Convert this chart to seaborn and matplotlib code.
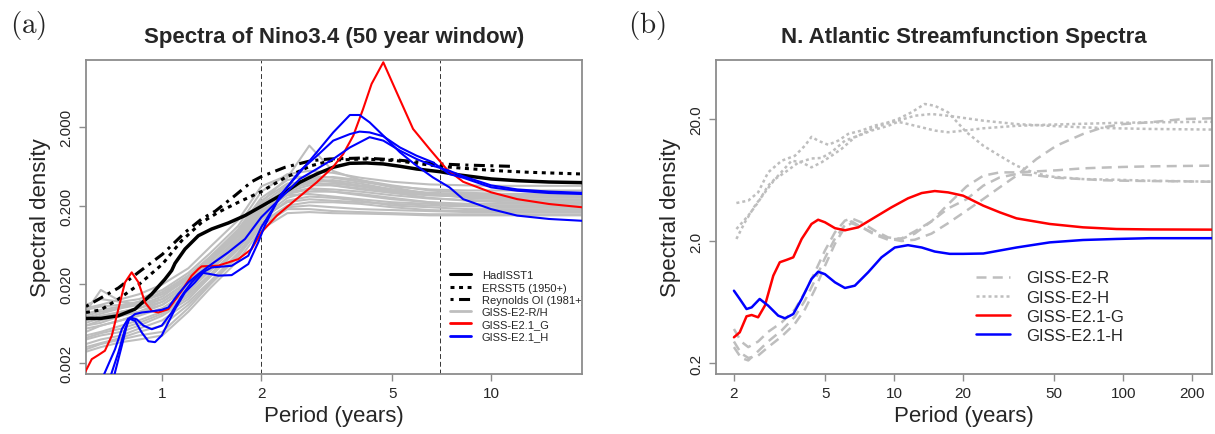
import matplotlib
matplotlib.use("Agg")
import matplotlib.pyplot as plt
from matplotlib.lines import Line2D
import seaborn as sns

# ---------------- Panel (a): Nino3.4 spectra ----------------
period_grid_a = [0.586, 0.65, 0.75, 0.85, 1.0, 1.2, 1.4, 1.7, 2.0, 2.4, 2.8, 3.3, 4.0, 5.0, 6.5, 8.5, 11, 14.5, 18.9]
gray_curves_a = [
    [0.011, 0.013, 0.012, 0.013, 0.017, 0.028, 0.05, 0.11, 0.30, 0.50, 0.55, 0.52, 0.45, 0.40, 0.37, 0.36, 0.355, 0.355, 0.355],
    [0.009, 0.017, 0.012, 0.011, 0.014, 0.024, 0.045, 0.10, 0.25, 0.42, 0.48, 0.45, 0.40, 0.35, 0.32, 0.31, 0.31, 0.31, 0.31],
    [0.008, 0.009, 0.010, 0.011, 0.013, 0.022, 0.04, 0.09, 0.22, 0.45, 1.15, 0.55, 0.42, 0.34, 0.28, 0.26, 0.25, 0.25, 0.25],
    [0.007, 0.008, 0.009, 0.010, 0.012, 0.02, 0.035, 0.08, 0.18, 0.35, 0.42, 0.40, 0.35, 0.30, 0.27, 0.26, 0.26, 0.26, 0.26],
    [0.006, 0.007, 0.008, 0.009, 0.011, 0.018, 0.032, 0.07, 0.16, 0.30, 0.36, 0.36, 0.33, 0.29, 0.25, 0.23, 0.22, 0.22, 0.22],
    [0.005, 0.006, 0.007, 0.008, 0.010, 0.016, 0.03, 0.065, 0.15, 0.28, 0.32, 0.30, 0.27, 0.24, 0.22, 0.21, 0.21, 0.21, 0.21],
    [0.0045, 0.005, 0.006, 0.007, 0.009, 0.015, 0.027, 0.06, 0.14, 0.25, 0.30, 0.30, 0.28, 0.25, 0.22, 0.20, 0.19, 0.19, 0.19],
    [0.004, 0.0045, 0.005, 0.006, 0.008, 0.013, 0.025, 0.055, 0.13, 0.23, 0.26, 0.25, 0.23, 0.20, 0.19, 0.18, 0.18, 0.18, 0.18],
    [0.0035, 0.004, 0.0045, 0.0055, 0.007, 0.012, 0.022, 0.05, 0.12, 0.20, 0.22, 0.22, 0.21, 0.19, 0.175, 0.17, 0.17, 0.17, 0.17],
    [0.003, 0.0035, 0.004, 0.0045, 0.005, 0.010, 0.02, 0.045, 0.11, 0.18, 0.18, 0.17, 0.165, 0.16, 0.155, 0.155, 0.155, 0.155, 0.155],
    [0.0028, 0.0032, 0.0037, 0.004, 0.0045, 0.009, 0.018, 0.04, 0.10, 0.16, 0.165, 0.16, 0.158, 0.155, 0.15, 0.15, 0.15, 0.15, 0.15],
    [0.010, 0.011, 0.013, 0.015, 0.02, 0.032, 0.06, 0.13, 0.35, 0.48, 0.45, 0.40, 0.36, 0.32, 0.29, 0.28, 0.28, 0.28, 0.28],
    [0.0075, 0.0085, 0.010, 0.012, 0.016, 0.026, 0.045, 0.09, 0.20, 0.32, 0.38, 0.38, 0.35, 0.31, 0.28, 0.27, 0.27, 0.27, 0.27],
    [0.0055, 0.006, 0.007, 0.0085, 0.011, 0.018, 0.03, 0.07, 0.17, 0.27, 0.28, 0.26, 0.24, 0.22, 0.21, 0.20, 0.20, 0.20, 0.20],
    [0.0065, 0.0075, 0.009, 0.010, 0.013, 0.021, 0.038, 0.085, 0.19, 0.33, 0.40, 0.42, 0.38, 0.32, 0.28, 0.25, 0.24, 0.235, 0.235],
    [0.0042, 0.0048, 0.0055, 0.0065, 0.0085, 0.014, 0.026, 0.058, 0.14, 0.22, 0.24, 0.23, 0.22, 0.21, 0.20, 0.195, 0.195, 0.195, 0.195],
    [0.0095, 0.0105, 0.011, 0.012, 0.015, 0.025, 0.042, 0.095, 0.23, 0.38, 0.40, 0.36, 0.32, 0.29, 0.27, 0.26, 0.26, 0.26, 0.26],
    [0.0032, 0.0036, 0.0042, 0.005, 0.006, 0.011, 0.021, 0.048, 0.12, 0.19, 0.20, 0.19, 0.18, 0.175, 0.17, 0.165, 0.165, 0.165, 0.165],
    [0.0085, 0.0095, 0.0105, 0.012, 0.015, 0.023, 0.04, 0.085, 0.21, 0.36, 0.44, 0.46, 0.42, 0.36, 0.31, 0.29, 0.28, 0.28, 0.28],
    [0.006, 0.0065, 0.008, 0.009, 0.012, 0.019, 0.034, 0.075, 0.17, 0.29, 0.33, 0.32, 0.30, 0.27, 0.245, 0.235, 0.23, 0.23, 0.23],
]

period_hadisst = [0.586, 0.65, 0.735, 0.826, 0.929, 1.019, 1.068, 1.093, 1.172, 1.287, 1.413, 1.587, 1.784, 2.0, 2.28, 2.62, 2.95, 3.31, 3.72, 4.18, 4.70, 5.28, 5.93, 6.98, 8.0, 10, 12, 15, 18.9]
hadisst = [0.0074, 0.0074, 0.0080, 0.0097, 0.0151, 0.0233, 0.030, 0.037, 0.056, 0.0828, 0.1007, 0.120, 0.149, 0.195, 0.266, 0.394, 0.502, 0.611, 0.686, 0.692, 0.673, 0.629, 0.581, 0.537, 0.488, 0.434, 0.413, 0.397, 0.39]

period_ersst = [0.586, 0.65, 0.735, 0.85, 1.0, 1.145, 1.317, 1.48, 1.70, 2.0, 2.36, 2.84, 3.3, 4.08, 5.16, 6.0, 7.0, 8.22, 10.4, 13.1, 18.9]
ersst = [0.0088, 0.0095, 0.013, 0.020, 0.036, 0.0716, 0.122, 0.164, 0.219, 0.30, 0.45, 0.64, 0.75, 0.778, 0.741, 0.68, 0.628, 0.593, 0.553, 0.527, 0.502]

period_reynolds = [0.586, 0.735, 0.846, 1.0, 1.172, 1.317, 1.45, 1.663, 1.869, 2.0, 2.36, 2.84, 3.23, 4.08, 5.16, 6.99, 8.22, 11.5]
reynolds = [0.0105, 0.0180, 0.0284, 0.048, 0.091, 0.135, 0.17, 0.267, 0.40, 0.465, 0.610, 0.741, 0.778, 0.801, 0.756, 0.673, 0.653, 0.628]

period_e21g = [0.582, 0.61, 0.639, 0.669, 0.702, 0.735, 0.77, 0.807, 0.846, 0.886, 0.929, 0.972, 1.043, 1.118, 1.228, 1.287, 1.317, 1.48, 1.703, 1.869, 2.0, 2.23, 2.56, 2.95, 3.31, 3.55, 3.81, 4.08, 4.33, 4.70, 5.16, 5.79, 6.5, 7.32, 8.22, 10, 12, 15, 18.9]
e21g = [0.00153, 0.00225, 0.00254, 0.00288, 0.00446, 0.0097, 0.0212, 0.0284, 0.0212, 0.0118, 0.0092, 0.0088, 0.0097, 0.0143, 0.0257, 0.0313, 0.0338, 0.0345, 0.0418, 0.0561, 0.091, 0.149, 0.242, 0.394, 0.62, 0.90, 1.54, 3.35, 6.97, 13.1, 5.46, 1.87, 1.04, 0.58, 0.40, 0.294, 0.241, 0.209, 0.19]

period_e21h_1 = [0.64, 0.669, 0.718, 0.753, 0.788, 0.826, 0.866, 0.907, 0.95, 0.996, 1.043, 1.093, 1.172, 1.257, 1.33, 1.40, 1.48, 1.625, 1.826, 1.958, 2.05, 2.28, 2.62, 2.95, 3.31, 3.72, 3.98, 4.27, 4.70, 5.28, 5.93, 6.65, 7.47, 8.22, 10, 12, 15, 18.9]
e21h_1 = [0.0010, 0.00153, 0.0030, 0.0054, 0.0074, 0.0069, 0.0049, 0.0038, 0.0037, 0.0045, 0.0066, 0.0097, 0.0158, 0.0212, 0.028, 0.027, 0.0258, 0.0262, 0.0362, 0.0683, 0.111, 0.267, 0.527, 0.946, 1.69, 2.81, 2.81, 2.27, 1.54, 0.946, 0.640, 0.455, 0.340, 0.241, 0.180, 0.149, 0.135, 0.128]
period_e21h_2 = [0.68, 0.702, 0.735, 0.77, 0.798, 0.836, 0.876, 0.929, 0.996, 1.068, 1.145, 1.228, 1.30, 1.413, 1.625, 1.826, 2.0, 2.33, 2.62, 2.95, 3.31, 3.72, 3.98, 4.27, 4.70, 5.28, 5.93, 6.65, 7.47, 8.22, 10, 12, 15, 18.9]
e21h_2 = [0.0010, 0.00153, 0.00274, 0.0054, 0.0076, 0.0072, 0.0060, 0.0054, 0.0060, 0.0088, 0.0143, 0.0212, 0.027, 0.0328, 0.0344, 0.0462, 0.106, 0.294, 0.55, 0.85, 1.33, 1.61, 1.73, 1.69, 1.51, 1.09, 0.857, 0.706, 0.50, 0.45, 0.34, 0.308, 0.288, 0.28]
period_e21h_3 = [0.70, 0.718, 0.753, 0.788, 0.826, 0.866, 0.929, 0.996, 1.043, 1.118, 1.2, 1.287, 1.413, 1.587, 1.784, 2.0, 2.33, 2.62, 2.95, 3.31, 3.72, 4.27, 4.70, 5.28, 5.93, 6.65, 7.47, 8.22, 10, 12, 15, 18.9]
e21h_3 = [0.0010, 0.00153, 0.00333, 0.0072, 0.0084, 0.0088, 0.0091, 0.0095, 0.0102, 0.0151, 0.0212, 0.027, 0.0362, 0.0509, 0.0751, 0.142, 0.267, 0.434, 0.581, 0.778, 1.09, 1.47, 1.33, 0.993, 0.778, 0.640, 0.55, 0.47, 0.36, 0.32, 0.30, 0.29]

ref_periods_a = [2, 7]
xticks_a = [1, 2, 5, 10]
yticks_a = [0.002, 0.02, 0.2, 2]
yticklabels_a = ["0.002", "0.020", "0.200", "2.000"]
legend_labels_a = ["HadISST1", "ERSST5 (1950+)", "Reynolds OI (1981+)", "GISS-E2-R/H", "GISS-E2.1_G", "GISS-E2.1_H"]

# ---------------- Panel (b): N. Atlantic streamfunction spectra ----------------
period_r = [2.0, 2.15, 2.31, 2.55, 2.82, 3.23, 3.69, 4.08, 4.51, 4.99, 5.52, 6.10, 6.52, 7.21, 8.24, 9.42, 10.77, 12.3, 14.56, 17.2, 20.7, 24.5, 28.9, 34.2, 41.8, 51.1, 66.8, 81.6, 99.7, 130, 182, 244]
e2r_1 = [0.30, 0.24, 0.22, 0.23, 0.27, 0.33, 0.42, 0.55, 0.80, 1.25, 1.9, 2.6, 2.8, 2.6, 2.3, 2.1, 2.0, 2.05, 2.3, 2.8, 3.55, 4.42, 5.51, 6.87, 9.4, 12.1, 15.1, 17.1, 18.2, 18.8, 20.0, 20.3]
e2r_2 = [0.38, 0.30, 0.27, 0.30, 0.36, 0.43, 0.55, 0.76, 1.11, 1.67, 2.36, 2.94, 3.07, 2.84, 2.43, 2.14, 2.08, 2.3, 2.9, 4.0, 5.6, 6.87, 7.31, 7.31, 7.45, 7.6, 7.89, 8.0, 8.1, 8.19, 8.25, 8.30]
e2r_3 = [0.27, 0.22, 0.21, 0.25, 0.30, 0.37, 0.48, 0.65, 0.95, 1.45, 2.1, 2.7, 2.9, 2.6, 2.25, 2.05, 2.1, 2.4, 2.9, 3.7, 4.4, 5.69, 6.65, 7.08, 6.9, 6.6, 6.44, 6.3, 6.25, 6.21, 6.17, 6.13]

period_h1 = [2.05, 2.31, 2.55, 2.82, 3.23, 3.69, 4.08, 4.36, 4.66, 5.16, 5.70, 6.30, 7.21, 8.24, 9.42, 10.4, 11.9, 13.6, 15.05, 17.2, 20.7, 24.5, 28.9, 34.2, 40.4, 47.8, 66.8, 93.3, 130, 244]
e2h_1 = [4.10, 4.29, 5.01, 7.31, 9.11, 10.0, 12.1, 14.3, 13.3, 12.3, 13.3, 15.1, 16.1, 17.7, 18.8, 20.0, 22.7, 26.6, 25.7, 22.7, 15.6, 12.1, 10.0, 8.3, 7.3, 6.77, 6.44, 6.36, 6.25, 6.13]
period_h2 = [2.05, 2.23, 2.47, 2.73, 3.02, 3.34, 3.82, 4.36, 4.82, 5.33, 6.10, 6.97, 7.97, 9.11, 10.4, 12.3, 14.56, 17.2, 24.5, 34.2, 47.8, 66.8, 93.3, 130, 244]
e2h_2 = [2.08, 2.84, 3.90, 5.01, 6.44, 7.31, 8.8, 9.5, 9.6, 10.7, 13.3, 14.6, 16.6, 18.2, 19.4, 21.3, 22.0, 21.3, 19.4, 18.2, 17.6, 17.1, 16.8, 16.6, 16.4]
period_h3 = [2.05, 2.31, 2.55, 2.82, 3.12, 3.57, 3.95, 4.36, 4.82, 5.33, 5.90, 6.74, 7.97, 9.42, 10.4, 11.5, 13.2, 15.05, 17.2, 20.3, 24.5, 34.2, 47.8, 66.8, 93.3, 130, 244]
e2h_3 = [2.51, 3.23, 4.15, 5.69, 6.87, 9.11, 8.83, 8.04, 8.83, 10.0, 11.4, 14.2, 16.1, 17.6, 19.0, 18.2, 17.1, 16.1, 15.6, 16.1, 16.8, 17.6, 18.0, 18.3, 18.6, 18.8, 19.0]

period_g_b = [2.0, 2.12, 2.27, 2.39, 2.55, 2.73, 2.97, 3.17, 3.39, 3.63, 3.95, 4.36, 4.66, 4.99, 5.52, 6.10, 6.97, 8.24, 9.74, 11.5, 13.2, 15.05, 17.2, 20, 24.5, 28.9, 34.2, 47.8, 66.8, 93.3, 130, 244]
e21g_b = [0.325, 0.357, 0.483, 0.495, 0.474, 0.591, 1.04, 1.34, 1.40, 1.47, 2.08, 2.76, 2.99, 2.85, 2.55, 2.45, 2.59, 3.13, 3.78, 4.48, 4.95, 5.14, 5.01, 4.71, 3.90, 3.44, 3.07, 2.76, 2.59, 2.51, 2.49, 2.48]
period_h_b = [2.0, 2.12, 2.27, 2.39, 2.59, 2.82, 3.12, 3.34, 3.63, 3.95, 4.36, 4.66, 4.99, 5.52, 6.10, 6.74, 7.71, 8.81, 10.07, 11.5, 13.2, 15.05, 17.5, 20, 24.5, 34.2, 47.8, 66.8, 93.3, 130, 244]
e21h_b = [0.783, 0.670, 0.554, 0.572, 0.670, 0.591, 0.489, 0.465, 0.504, 0.670, 0.977, 1.12, 1.07, 0.917, 0.824, 0.861, 1.11, 1.47, 1.77, 1.85, 1.77, 1.64, 1.57, 1.57, 1.58, 1.77, 1.95, 2.04, 2.08, 2.11, 2.11]

xticks_b = [2, 5, 10, 20, 50, 100, 200]
yticks_b = [0.2, 2.0, 20.0]
yticklabels_b = ["0.2", "2.0", "20.0"]
legend_labels_b = ["GISS-E2-R", "GISS-E2-H", "GISS-E2.1-G", "GISS-E2.1-H"]

# ---------------- styling ----------------
sns.set_theme(style="white")
plt.rcParams["font.family"] = ["Liberation Sans", "DejaVu Sans"]
plt.rcParams["mathtext.fontset"] = "cm"

GRAY = "#bebebe"
FRAME = "#8c8c8c"
DOT_A = (0, (1.3, 1.5))
DASHDOT_A = (0, (1.0, 1.8, 3.6, 1.8))
DASH_B = (0, (4.0, 2.5))
DOT_B = (0, (1.2, 1.2))

fig = plt.figure(figsize=(12.15, 4.35), dpi=100)
ax_a = fig.add_axes([86 / 1215, 60 / 435, 496 / 1215, 314 / 435])
ax_b = fig.add_axes([716 / 1215, 60 / 435, 496 / 1215, 314 / 435])


def draw(ax, x, y, color, lw, ls="-", z=2):
    sns.lineplot(x=x, y=y, ax=ax, color=color, linewidth=lw, linestyle=ls,
                 estimator=None, sort=False, legend=False, zorder=z)


for curve in gray_curves_a:
    draw(ax_a, period_grid_a, curve, GRAY, 1.5, z=2)
draw(ax_a, period_ersst, ersst, "black", 2.2, DOT_A, z=3)
draw(ax_a, period_reynolds, reynolds, "black", 2.2, DASHDOT_A, z=3)
draw(ax_a, period_hadisst, hadisst, "black", 2.5, z=3)
draw(ax_a, period_e21g, e21g, "#ff0000", 1.5, z=4)
draw(ax_a, period_e21h_1, e21h_1, "#0000ff", 1.5, z=5)
draw(ax_a, period_e21h_2, e21h_2, "#0000ff", 1.5, z=5)
draw(ax_a, period_e21h_3, e21h_3, "#0000ff", 1.5, z=5)
for p in ref_periods_a:
    ax_a.axvline(p, color="#333333", lw=0.7, ls=(0, (5, 3)), zorder=1)

ax_a.set_xscale("log")
ax_a.set_yscale("log")
ax_a.set_xlim(0.586, 18.9)
ax_a.set_ylim(0.00146, 14.0)
ax_a.set_xticks(xticks_a)
ax_a.set_xticklabels([str(t) for t in xticks_a])
ax_a.set_yticks(yticks_a)
ax_a.set_yticklabels(yticklabels_a)
ax_a.set_title("Spectra of Nino3.4 (50 year window)", fontsize=16, fontweight="bold", pad=13)

draw(ax_b, period_r, e2r_1, GRAY, 1.8, DASH_B, z=2)
draw(ax_b, period_r, e2r_2, GRAY, 1.8, DASH_B, z=2)
draw(ax_b, period_r, e2r_3, GRAY, 1.8, DASH_B, z=2)
draw(ax_b, period_h1, e2h_1, GRAY, 1.8, DOT_B, z=2)
draw(ax_b, period_h2, e2h_2, GRAY, 1.8, DOT_B, z=2)
draw(ax_b, period_h3, e2h_3, GRAY, 1.8, DOT_B, z=2)
draw(ax_b, period_g_b, e21g_b, "#ff0000", 1.8, z=4)
draw(ax_b, period_h_b, e21h_b, "#0000ff", 1.8, z=4)

ax_b.set_xscale("log")
ax_b.set_yscale("log")
ax_b.set_xlim(1.67, 244)
ax_b.set_ylim(0.1625, 61)
ax_b.set_xticks(xticks_b)
ax_b.set_xticklabels([str(t) for t in xticks_b])
ax_b.set_yticks(yticks_b)
ax_b.set_yticklabels(yticklabels_b)
ax_b.set_title("N. Atlantic Streamfunction Spectra", fontsize=16, fontweight="bold", pad=13)

for ax in (ax_a, ax_b):
    ax.minorticks_off()
    ax.set_xlabel("Period (years)", fontsize=16, labelpad=3)
    ax.set_ylabel("Spectral density", fontsize=16, labelpad=6)
    ax.tick_params(axis="both", which="major", direction="out", length=5, width=1,
                   color=FRAME, labelsize=11, pad=4, bottom=True, left=True)
    ax.tick_params(axis="y", labelrotation=90)
    for lbl in ax.get_yticklabels():
        lbl.set_va("center")
    for s in ax.spines.values():
        s.set_color(FRAME)
        s.set_linewidth(1.3)
    ax.grid(False)

# legend (a)
handles_a = [
    Line2D([], [], color="black", lw=2.2),
    Line2D([], [], color="black", lw=2.2, ls=DOT_A),
    Line2D([], [], color="black", lw=2.2, ls=DASHDOT_A),
    Line2D([], [], color=GRAY, lw=2.0),
    Line2D([], [], color="#ff0000", lw=2.0),
    Line2D([], [], color="#0000ff", lw=2.0),
]
leg_a = ax_a.legend(handles_a, legend_labels_a, loc="upper left", bbox_to_anchor=(0.734, 0.33),
                    frameon=False, fontsize=8, handlelength=1.9, handletextpad=0.95,
                    labelspacing=0.2, borderpad=0, borderaxespad=0)
for t in leg_a.get_texts():
    t.set_clip_box(ax_a.bbox)
    t.set_clip_on(True)

handles_b = [
    Line2D([], [], color=GRAY, lw=1.8, ls=DASH_B),
    Line2D([], [], color=GRAY, lw=1.8, ls=DOT_B),
    Line2D([], [], color="#ff0000", lw=1.8),
    Line2D([], [], color="#0000ff", lw=1.8),
]
ax_b.legend(handles_b, legend_labels_b, loc="upper left", bbox_to_anchor=(0.525, 0.33),
            frameon=False, fontsize=12, handlelength=2.0, handletextpad=1.0,
            labelspacing=0.25, borderpad=0, borderaxespad=0)

fig.text(10 / 1215, 1 - 25 / 435, r"$\mathrm{(a)}$", fontsize=21, ha="left", va="center")
fig.text(628 / 1215, 1 - 25 / 435, r"$\mathrm{(b)}$", fontsize=21, ha="left", va="center")

fig.savefig("out.png", dpi=100)
